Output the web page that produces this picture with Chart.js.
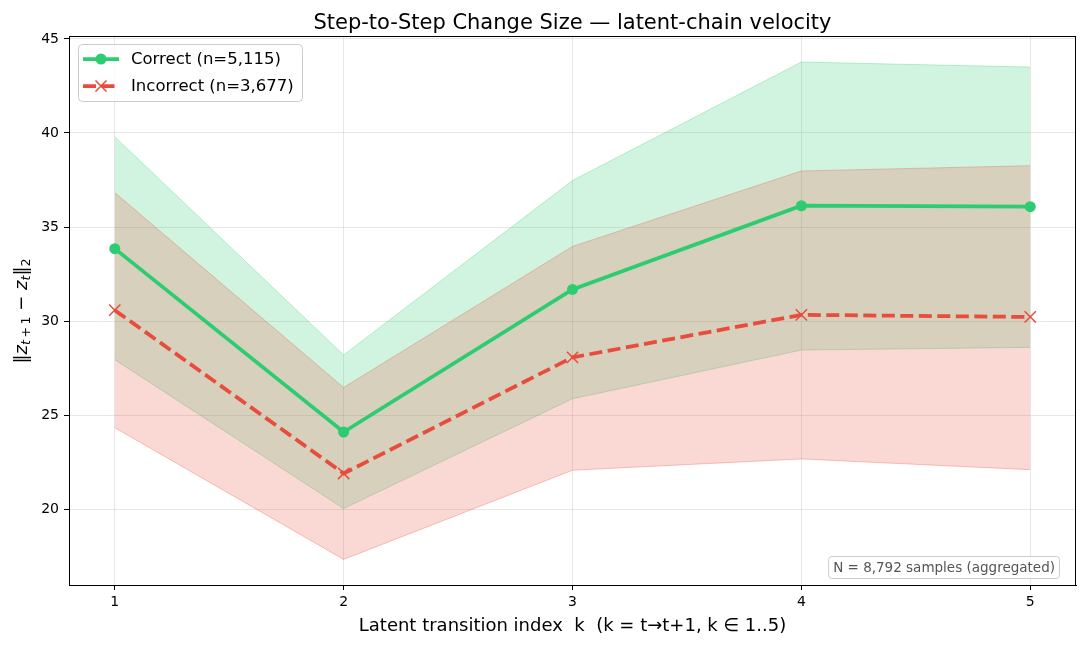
<!DOCTYPE html>
<html><head><meta charset="utf-8">
<script src="https://cdn.jsdelivr.net/npm/chart.js@4.4.0/dist/chart.umd.min.js"></script>
<style>html,body{margin:0;padding:0;background:#fff}#wrap{width:1086px;height:646px}</style>
</head><body><div id="wrap"><canvas id="c" width="1086" height="646"></canvas></div>
<script>
const kValues = [1, 2, 3, 4, 5];
const correctMean = [33.85, 24.1, 31.68, 36.13, 36.08];
const correctUpper = [39.8, 28.2, 37.47, 43.77, 43.5];
const correctLower = [27.95, 20.03, 25.87, 28.46, 28.6];
const incorrectMean = [30.58, 21.9, 28.07, 30.33, 30.22];
const incorrectUpper = [36.83, 26.47, 33.97, 37.98, 38.26];
const incorrectLower = [24.33, 17.33, 22.07, 22.67, 22.1];
const xTicks = [1, 2, 3, 4, 5];
const yTicks = [20, 25, 30, 35, 40, 45];
const seriesLabels = ['Correct (n=5,115)', 'Incorrect (n=3,677)'];
const titleText = 'Step-to-Step Change Size — latent-chain velocity';
const xTitle = 'Latent transition index  k  (k = t→t+1, k ∈ 1..5)';
const noteText = 'N = 8,792 samples (aggregated)';

const GREEN = '#2ecc71', RED = '#e74c3c';
const pts = arr => kValues.map((k, i) => ({x: k, y: arr[i]}));
Chart.defaults.font.family = 'DejaVu Sans';
Chart.defaults.color = '#000';

function rr(ctx, x, y, w, h, r) {
  ctx.beginPath();
  ctx.moveTo(x + r, y); ctx.lineTo(x + w - r, y); ctx.arcTo(x + w, y, x + w, y + r, r);
  ctx.lineTo(x + w, y + h - r); ctx.arcTo(x + w, y + h, x + w - r, y + h, r);
  ctx.lineTo(x + r, y + h); ctx.arcTo(x, y + h, x, y + h - r, r);
  ctx.lineTo(x, y + r); ctx.arcTo(x, y, x + r, y, r); ctx.closePath();
}

const extras = {
  id: 'extras',
  afterDraw(chart) {
    const ctx = chart.ctx, a = chart.chartArea;
    ctx.save();
    // spines
    ctx.strokeStyle = '#000'; ctx.lineWidth = 1;
    ctx.strokeRect(Math.round(a.left) + 0.5, Math.round(a.top) - 0.5, Math.round(a.right - a.left) - 1, Math.round(a.bottom - a.top) + 1);
    // title
    ctx.font = '21px DejaVu Sans'; ctx.fillStyle = '#000';
    ctx.textAlign = 'center'; ctx.textBaseline = 'alphabetic';
    ctx.fillText(titleText, (a.left + a.right) / 2, 29);
    // legend
    const lx = 78.5, ly = 44.5;
    rr(ctx, lx, ly, 224, 57, 4);
    ctx.fillStyle = 'rgba(255,255,255,0.8)'; ctx.fill();
    ctx.strokeStyle = '#cccccc'; ctx.lineWidth = 1; ctx.stroke();
    ctx.font = '16.5px DejaVu Sans'; ctx.textBaseline = 'middle'; ctx.textAlign = 'left';
    let y = 59;
    ctx.strokeStyle = GREEN; ctx.lineWidth = 3.75; ctx.setLineDash([]);
    ctx.beginPath(); ctx.moveTo(83, y); ctx.lineTo(119, y); ctx.stroke();
    ctx.fillStyle = GREEN; ctx.beginPath(); ctx.arc(101, y, 5.5, 0, Math.PI * 2); ctx.fill();
    ctx.fillStyle = '#000'; ctx.fillText(seriesLabels[0], 131, y + 1);
    y = 86;
    ctx.strokeStyle = RED; ctx.lineWidth = 3.75; ctx.setLineDash([13, 5.5]);
    ctx.beginPath(); ctx.moveTo(83, y); ctx.lineTo(119, y); ctx.stroke();
    ctx.setLineDash([]); ctx.lineWidth = 1.5;
    ctx.beginPath(); ctx.moveTo(101 - 5.5, y - 5.5); ctx.lineTo(101 + 5.5, y + 5.5);
    ctx.moveTo(101 - 5.5, y + 5.5); ctx.lineTo(101 + 5.5, y - 5.5); ctx.stroke();
    ctx.fillStyle = '#000'; ctx.fillText(seriesLabels[1], 131, y + 1);
    // note box
    ctx.font = '13.5px DejaVu Sans';
    const tw = ctx.measureText(noteText).width;
    const bx = 1059.5 - tw - 9, by = 556.5;
    rr(ctx, bx, by, tw + 9, 22, 3);
    ctx.fillStyle = 'rgba(255,255,255,0.8)'; ctx.fill();
    ctx.strokeStyle = '#cccccc'; ctx.lineWidth = 1; ctx.stroke();
    ctx.fillStyle = '#555555'; ctx.textAlign = 'left';
    ctx.fillText(noteText, bx + 4.5, by + 11.5);
    // y label with math
    const fs = 18, sub = fs * 0.7;
    const N = fs + 'px DejaVu Sans', I = 'italic ' + fs + 'px DejaVu Sans';
    const SN = sub + 'px DejaVu Sans', SI = 'italic ' + sub + 'px DejaVu Sans';
    const parts = [
      {t: '\u2016', f: N, dy: 0}, {t: 'z', f: I, dy: 0},
      {t: 't', f: SI, dy: 4.5}, {t: '\u2009+\u20091', f: SN, dy: 4.5},
      {t: ' \u2212 ', f: N, dy: 0}, {t: 'z', f: I, dy: 0},
      {t: 't', f: SI, dy: 4.5}, {t: '\u2016', f: N, dy: 0}, {t: '2', f: SN, dy: 4.5}
    ];
    let total = 0;
    parts.forEach(p => { ctx.font = p.f; p.w = ctx.measureText(p.t).width; total += p.w; });
    ctx.translate(22, (a.top + a.bottom) / 2);
    ctx.rotate(-Math.PI / 2);
    ctx.fillStyle = '#000'; ctx.textBaseline = 'middle'; ctx.textAlign = 'left';
    let cx = -total / 2;
    parts.forEach(p => { ctx.font = p.f; ctx.fillText(p.t, cx, p.dy); cx += p.w; });
    ctx.restore();
  }
};

new Chart(document.getElementById('c'), {
  type: 'line',
  data: {
    datasets: [
      {label: 'cU', data: pts(correctUpper), fill: '+1', backgroundColor: 'rgba(46,204,113,0.22)', borderColor: 'rgba(46,204,113,0.3)', borderWidth: 1, pointRadius: 0, order: 4},
      {label: 'cL', data: pts(correctLower), fill: false, borderColor: 'rgba(46,204,113,0.3)', borderWidth: 1, pointRadius: 0, order: 4},
      {label: 'iU', data: pts(incorrectUpper), fill: '+1', backgroundColor: 'rgba(231,76,60,0.22)', borderColor: 'rgba(231,76,60,0.3)', borderWidth: 1, pointRadius: 0, order: 3},
      {label: 'iL', data: pts(incorrectLower), fill: false, borderColor: 'rgba(231,76,60,0.3)', borderWidth: 1, pointRadius: 0, order: 3},
      {label: seriesLabels[1], data: pts(incorrectMean), borderColor: RED, borderWidth: 3.75, borderDash: [13, 5.5], pointStyle: 'crossRot', pointRadius: 8, pointBorderWidth: 1.5, pointBorderColor: RED, pointBackgroundColor: RED, fill: false, order: 1},
      {label: seriesLabels[0], data: pts(correctMean), borderColor: GREEN, borderWidth: 3.75, pointStyle: 'circle', pointRadius: 5.5, pointBorderWidth: 0, pointBackgroundColor: GREEN, fill: false, order: 0}
    ]
  },
  options: {
    responsive: false, animation: false, devicePixelRatio: 1,
    layout: {padding: {top: 37, right: 10, left: 0, bottom: 0}},
    plugins: {legend: {display: false}, tooltip: {enabled: false}, title: {display: false}},
    scales: {
      x: {
        type: 'linear', min: 0.8, max: 5.2,
        afterBuildTicks: s => { s.ticks = xTicks.map(v => ({value: v})); },
        afterFit: s => { s.height = 61; },
        ticks: {font: {size: 14}, color: '#000', padding: 4, maxRotation: 0},
        grid: {color: 'rgba(176,176,176,0.3)', lineWidth: 1, tickColor: '#000', tickLength: 5},
        border: {color: '#000', width: 1},
        title: {display: true, text: xTitle, font: {size: 18}, color: '#000', padding: {top: 2, bottom: 9}}
      },
      y: {
        type: 'linear', min: 15.97, max: 45.1,
        afterBuildTicks: s => { s.ticks = yTicks.map(v => ({value: v})); },
        afterFit: s => { s.width = 69; },
        ticks: {font: {size: 14}, color: '#000', padding: 5},
        grid: {color: 'rgba(176,176,176,0.3)', lineWidth: 1, tickColor: '#000', tickLength: 5},
        border: {color: '#000', width: 1}
      }
    }
  },
  plugins: [extras]
});
</script></body></html>
